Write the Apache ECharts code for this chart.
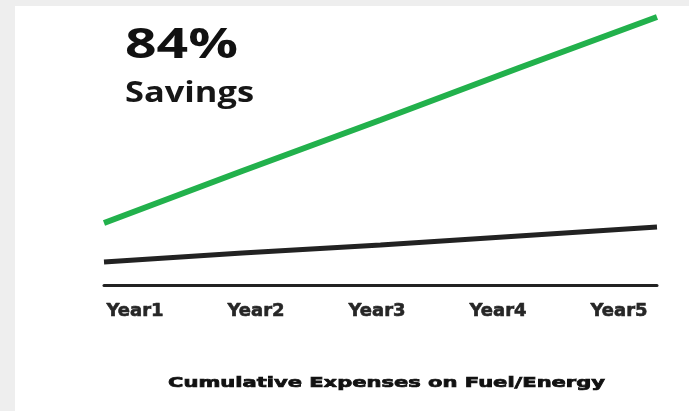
<!DOCTYPE html>
<html>
<head>
<meta charset="utf-8">
<script src="https://cdn.jsdelivr.net/npm/echarts@6/dist/echarts.min.js"></script>
<style>
  html, body { margin: 0; padding: 0; background: #eeeeee; }
  #chart { width: 689px; height: 411px; }
</style>
</head>
<body>
<div id="chart"></div>
<script>
// Years along the bottom axis
const years = ['Year1', 'Year2', 'Year3', 'Year4', 'Year5'];
// Cumulative spend, conventional fuel (green) vs. electric (dark)
const fuelCost = [62, 114, 165, 217, 268];
const energyCost = [23, 32, 40, 49, 58];
// Headline texts
const headline = '84%';
const subline = 'Savings';
const caption = 'Cumulative Expenses on Fuel/Energy';

// Horizontal stretch factor so a string spans a given width in a given font
const measureCtx = document.createElement('canvas').getContext('2d');
function stretch(text, font, width) {
  measureCtx.font = font;
  return width / measureCtx.measureText(text).width;
}

const headFont = 'bold 42px "Open Sans"';
const subFont = 'bold 28px "Open Sans"';
const capFont = 'bold 14px "DejaVu Sans"';

const chart = echarts.init(document.getElementById('chart'));
chart.setOption({
  animation: false,
  backgroundColor: '#eeeeee',
  graphic: [
    { type: 'rect', z: -10, shape: { x: 15, y: 6, width: 700, height: 420 }, style: { fill: '#ffffff' } },
    { type: 'text', x: 125, y: 25, scaleX: stretch(headline, headFont, 113),
      style: { text: headline, font: headFont, fill: '#111111' } },
    { type: 'text', x: 125, y: 80, scaleX: stretch(subline, subFont, 129),
      style: { text: subline, font: subFont, fill: '#161616' } },
    { type: 'text', x: 168, y: 376, scaleX: stretch(caption, capFont, 437),
      style: { text: caption, font: capFont, fill: '#111111', stroke: '#111111', lineWidth: 0.7 } }
  ],
  grid: [
    { left: 104, right: 32, top: 15, bottom: 126 },
    { left: 135, right: 70, top: 15, bottom: 126 }
  ],
  xAxis: [
    {
      gridIndex: 0, type: 'category', data: years, boundaryGap: false,
      axisLine: { lineStyle: { color: '#222222', width: 3 } },
      axisTick: { show: false }, axisLabel: { show: false }, splitLine: { show: false }
    },
    {
      gridIndex: 1, type: 'category', data: years, boundaryGap: false,
      axisLine: { show: false }, axisTick: { show: false }, splitLine: { show: false },
      axisLabel: {
        color: '#262626', fontFamily: 'DejaVu Sans', fontWeight: 'bold', fontSize: 18, margin: 17,
        textBorderColor: '#262626', textBorderWidth: 0.6
      }
    }
  ],
  yAxis: [
    { gridIndex: 0, type: 'value', min: 0, max: 270, show: false },
    { gridIndex: 1, type: 'value', min: 0, max: 270, show: false }
  ],
  series: [
    {
      type: 'line', xAxisIndex: 0, yAxisIndex: 0, data: fuelCost,
      showSymbol: false, lineStyle: { color: '#22b14c', width: 6 }
    },
    {
      type: 'line', xAxisIndex: 0, yAxisIndex: 0, data: energyCost,
      showSymbol: false, lineStyle: { color: '#222222', width: 5 }
    }
  ]
});
</script>
</body>
</html>
